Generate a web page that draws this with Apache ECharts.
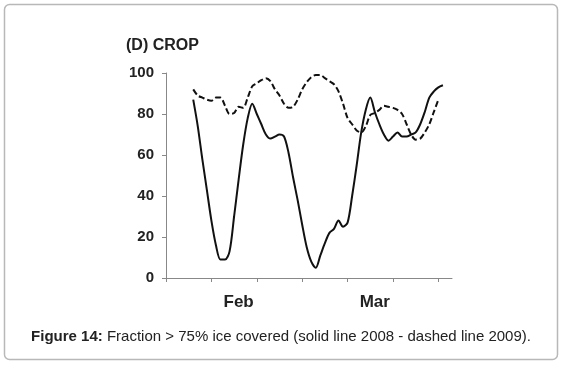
<!DOCTYPE html>
<html>
<head>
<meta charset="utf-8">
<script src="https://cdn.jsdelivr.net/npm/echarts@6/dist/echarts.min.js"></script>
<style>
    html, body { margin: 0; padding: 0; background: #fff; }
    #main { width: 562px; height: 365px; }
</style>
</head>
<body>
<div id="main"></div>
<script>
// day index along the x axis (roughly mid-Jan .. mid-Mar)
var dayCount = 64;
var monthDays = [16, 46];
var monthLabels = ['Feb', 'Mar'];
var yTicks = [0, 20, 40, 60, 80, 100];

// solid line 2008, starts at day 6
var start2008 = 6;
var solid2008 = [87, 74, 58, 43, 28, 16, 9, 9, 13, 30,
    48, 65, 78, 85, 80, 75, 70, 68, 69, 70,
    69, 61, 49, 38, 26, 15, 8, 5, 11, 17,
    22, 24, 28, 25, 27, 40, 55, 71, 82, 88,
    81, 75, 70, 67, 69, 71, 69, 69, 70, 71,
    75, 81, 88, 91, 93, 94];

// dashed line 2009, starts at day 6
var start2009 = 6;
var dashed2009 = [92, 89, 88, 87, 86.5, 88, 88, 84, 80, 80.5,
    83.5, 83, 88, 93.5, 95, 96.5, 97.5, 96, 92, 89,
    85, 83, 83.5, 87, 92, 95.5, 98, 99, 99, 97.5,
    96, 94.5, 91, 85, 78, 75, 72, 71, 74, 79.5,
    80.5, 82, 84, 83.5, 83, 82, 80, 75, 70, 67.5,
    68, 71, 75, 81, 87];

function padSeries(start, values) {
    var out = [];
    for (var i = 0; i < dayCount; i++) {
        var v = values[i - start];
        out.push(v === undefined ? null : v);
    }
    return out;
}

var days = [];
for (var d = 0; d < dayCount; d++) { days.push(String(d)); }

var chart = echarts.init(document.getElementById('main'));
var fontFam = '"Liberation Sans", Arial, sans-serif';

var option = {
    animation: false,
    backgroundColor: '#fff',
    title: {
        text: '(D) CROP',
        left: 126,
        top: 38,
        padding: 0,
        textStyle: { fontFamily: fontFam, fontSize: 16, fontWeight: 'bold', color: '#222' }
    },
    grid: {
        left: 166,
        right: 110,
        top: 73,
        bottom: 87,
        containLabel: false
    },
    xAxis: {
        type: 'category',
        data: days,
        boundaryGap: false,
        axisLine: { lineStyle: { color: '#888', width: 1 } },
        axisTick: {
            show: true,
            length: 4,
            lineStyle: { color: '#888' },
            interval: function (index) { return index % 10 === 0; }
        },
        axisLabel: {
            interval: 0,
            margin: 16,
            fontFamily: fontFam,
            fontSize: 17,
            fontWeight: 'bold',
            color: '#222',
            formatter: function (value, index) {
                var k = monthDays.indexOf(index);
                return k >= 0 ? monthLabels[k] : '';
            }
        },
        splitLine: { show: false }
    },
    yAxis: {
        type: 'value',
        min: yTicks[0],
        max: yTicks[yTicks.length - 1],
        interval: 20,
        axisLine: { show: true, lineStyle: { color: '#888', width: 1 } },
        axisTick: { show: true, length: 4, lineStyle: { color: '#888' } },
        axisLabel: {
            margin: 12,
            fontFamily: fontFam,
            fontSize: 15,
            fontWeight: 'bold',
            color: '#222'
        },
        splitLine: { show: false }
    },
    series: [
        {
            name: '2008',
            type: 'line',
            data: padSeries(start2008, solid2008),
            smooth: 0.3,
            showSymbol: false,
            connectNulls: false,
            lineStyle: { color: '#111', width: 2, type: 'solid' }
        },
        {
            name: '2009',
            type: 'line',
            data: padSeries(start2009, dashed2009),
            smooth: 0.3,
            showSymbol: false,
            connectNulls: false,
            lineStyle: { color: '#111', width: 2, type: [6, 3] }
        }
    ],
    graphic: [
        {
            type: 'rect',
            shape: { x: 4.5, y: 4.5, width: 553, height: 355, r: 5 },
            style: { fill: 'none', stroke: '#b8b8b8', lineWidth: 1.5 },
            silent: true
        },
        {
            type: 'text',
            x: 281,
            y: 337,
            style: {
                text: '{b|Figure 14:} Fraction > 75% ice covered (solid line 2008 - dashed line 2009).',
                fontFamily: fontFam,
                fontSize: 15,
                fill: '#222',
                align: 'center',
                verticalAlign: 'middle',
                rich: {
                    b: { fontFamily: fontFam, fontSize: 15, fontWeight: 'bold', fill: '#222' }
                }
            },
            silent: true
        }
    ]
};

chart.setOption(option);
</script>
</body>
</html>
